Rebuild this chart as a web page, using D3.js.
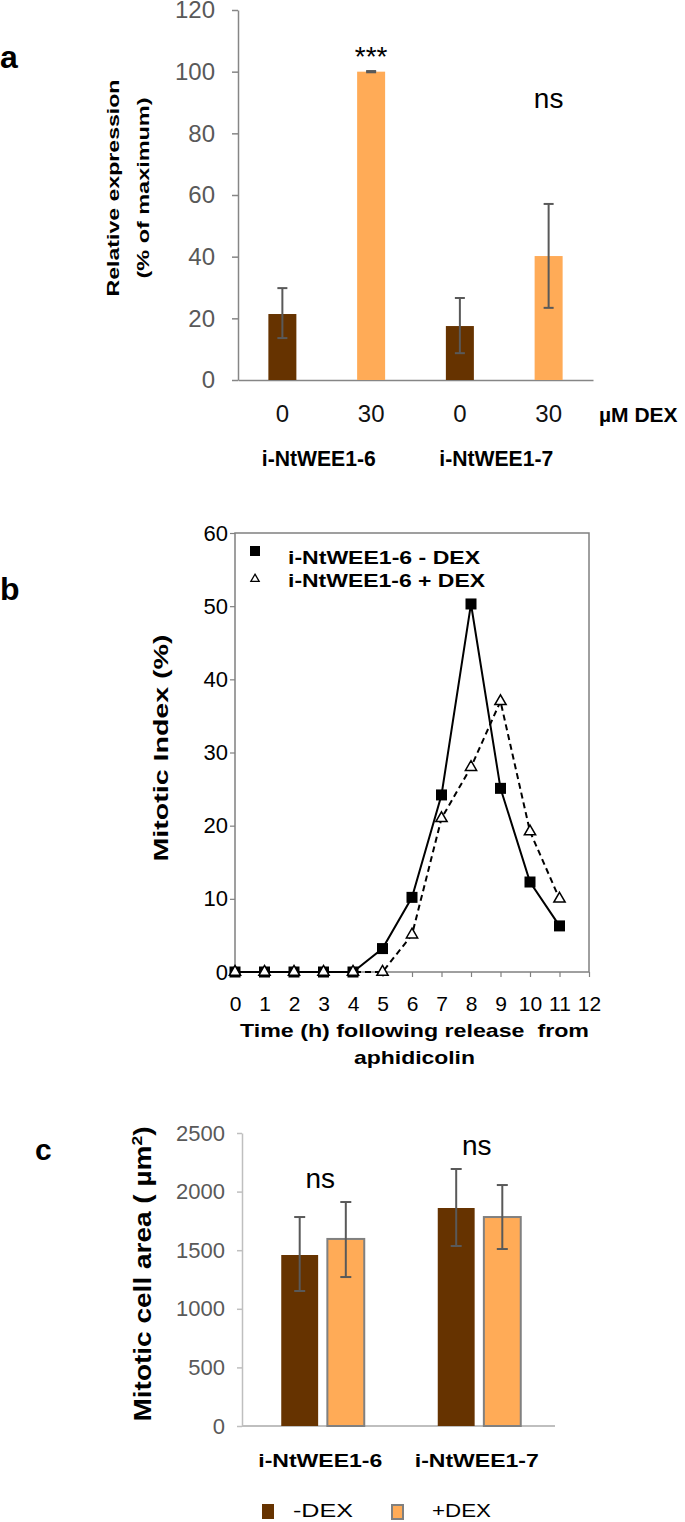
<!DOCTYPE html>
<html>
<head>
<meta charset="utf-8">
<script src="https://d3js.org/d3.v7.min.js"></script>
<style>
  body { margin: 0; background: #fff; }
  svg { display: block; font-family: "Liberation Sans", Arial, sans-serif; }
</style>
</head>
<body>
<script>
// ---- panel a : relative expression ----
var exprDose = ["0", "30", "0", "30"];
var exprLines = ["i-NtWEE1-6", "i-NtWEE1-7"];
var exprMean = [21.4, 100, 17.5, 40.2];
var exprLow = [13.6, 99.8, 8.7, 23.4];
var exprHigh = [29.8, 100.2, 26.6, 57.1];
var exprSig = ["", "***", "", "ns"];
var exprTicks = [0, 20, 40, 60, 80, 100, 120];

// ---- panel b : mitotic index ----
var hours = [0, 1, 2, 3, 4, 5, 6, 7, 8, 9, 10, 11];
var miMinus = [0, 0, 0, 0, 0, 3.2, 10.2, 24.2, 50.3, 25.1, 12.3, 6.3];
var miPlus = [0, 0, 0, 0, 0, 0, 5.1, 21.0, 28.0, 37.0, 19.2, 10.0];
var hourTicks = [0, 1, 2, 3, 4, 5, 6, 7, 8, 9, 10, 11, 12];
var miTicks = [0, 10, 20, 30, 40, 50, 60];

// ---- panel c : mitotic cell area ----
var areaLines = ["i-NtWEE1-6", "i-NtWEE1-7"];
var areaMinus = [1459, 1860];
var areaMinusLow = [1152, 1536];
var areaMinusHigh = [1783, 2193];
var areaPlus = [1596, 1783];
var areaPlusLow = [1271, 1510];
var areaPlusHigh = [1911, 2056];
var areaSig = ["ns", "ns"];
var areaTicks = [0, 500, 1000, 1500, 2000, 2500];

var brown = "#663300", orange = "#ffab57", errCol = "#595959";

var svg = d3.select("body").append("svg")
    .attr("width", 685)
    .attr("height", 1522);
svg.append("rect").attr("width", 685).attr("height", 1522).attr("fill", "#fff");

// panel letters
svg.append("text").attr("x", 0).attr("y", 68).style("font-size", "32px").style("font-weight", "bold").text("a");
svg.append("text").attr("x", 0).attr("y", 600).style("font-size", "32px").style("font-weight", "bold").text("b");
svg.append("text").attr("x", 35).attr("y", 1160).style("font-size", "30px").style("font-weight", "bold").text("c");

/* ================= panel a ================= */
var yA = d3.scaleLinear().domain([0, 120]).range([380, 10]);
var xA = d3.scaleBand().domain(d3.range(exprDose.length)).range([238, 593]);
var gA = svg.append("g");

var axA = gA.append("g").attr("transform", "translate(238,0)")
    .call(d3.axisLeft(yA).tickValues(exprTicks).tickSize(6).tickPadding(17).tickSizeOuter(0));
axA.selectAll("path,line").attr("stroke", "#868686").attr("stroke-width", 1.5);
axA.selectAll("text").attr("fill", "#595959").style("font-size", "24px").style("font-family", null);

var bxA = gA.append("g").attr("transform", "translate(0,380)")
    .call(d3.axisBottom(xA).tickSize(0).tickPadding(25).tickSizeOuter(0).tickFormat(function (i) { return exprDose[i]; }));
bxA.select("path").attr("stroke", "#868686").attr("stroke-width", 1.5);
bxA.selectAll("text").attr("fill", "#111").style("font-size", "24px").style("font-family", null);

var cxA = function (i) { return xA(i) + xA.bandwidth() / 2; };

gA.selectAll("rect.bar").data(exprMean).enter().append("rect")
    .attr("class", "bar")
    .attr("x", function (d, i) { return cxA(i) - 14; })
    .attr("width", 28)
    .attr("y", function (d) { return yA(d); })
    .attr("height", function (d) { return yA(0) - yA(d); })
    .attr("fill", function (d, i) { return exprDose[i] === "0" ? brown : orange; });

exprMean.forEach(function (d, i) {
  var x = cxA(i), g = gA.append("g").attr("stroke", errCol).attr("stroke-width", 2);
  g.append("line").attr("x1", x).attr("x2", x).attr("y1", yA(exprLow[i])).attr("y2", yA(exprHigh[i]));
  g.append("line").attr("x1", x - 5).attr("x2", x + 5).attr("y1", yA(exprLow[i])).attr("y2", yA(exprLow[i]));
  g.append("line").attr("x1", x - 5).attr("x2", x + 5).attr("y1", yA(exprHigh[i])).attr("y2", yA(exprHigh[i]));
});

var sigYA = [0, 66, 0, 108];
exprSig.forEach(function (s, i) {
  if (!s) return;
  gA.append("text").attr("x", cxA(i)).attr("y", sigYA[i]).attr("text-anchor", "middle")
    .style("font-size", "28px").text(s);
});

gA.append("text").attr("x", 599).attr("y", 422).style("font-size", "21px").style("font-weight", "bold").text("µM DEX");

// group labels, roughly under each pair of bars
exprLines.forEach(function (s, i) {
  var mid = (cxA(2 * i) + cxA(2 * i + 1)) / 2 - 8;
  gA.append("text").attr("x", mid).attr("y", 466).attr("text-anchor", "middle")
    .attr("textLength", 114).attr("lengthAdjust", "spacingAndGlyphs")
    .style("font-size", "22px").style("font-weight", "bold").text(s);
});

gA.append("text").attr("transform", "translate(119,188) rotate(-90)").attr("text-anchor", "middle")
  .attr("textLength", 217).attr("lengthAdjust", "spacingAndGlyphs")
  .style("font-size", "17px").style("font-weight", "bold").text("Relative expression");
gA.append("text").attr("transform", "translate(149,188) rotate(-90)").attr("text-anchor", "middle")
  .attr("textLength", 181).attr("lengthAdjust", "spacingAndGlyphs")
  .style("font-size", "17px").style("font-weight", "bold").text("(% of maximum)");

/* ================= panel b ================= */
var xB = d3.scaleLinear().domain([0, 12]).range([235, 589]);
var yB = d3.scaleLinear().domain([0, 60]).range([972, 533]);
var gB = svg.append("g");

gB.append("rect").attr("x", xB(0)).attr("y", yB(60))
  .attr("width", xB(12) - xB(0)).attr("height", yB(0) - yB(60))
  .attr("fill", "none").attr("stroke", "#808080").attr("stroke-width", 1.5);

var axB = gB.append("g").attr("transform", "translate(235,0)")
    .call(d3.axisLeft(yB).tickValues(miTicks).tickSize(5).tickPadding(2).tickSizeOuter(0));
axB.select("path").remove();
axB.selectAll("line").attr("stroke", "#808080").attr("stroke-width", 1.2);
axB.selectAll("text").attr("fill", "#000").style("font-size", "22px").style("font-family", null);

var bxB = gB.append("g").attr("transform", "translate(0,972)")
    .call(d3.axisBottom(xB).tickValues(hourTicks).tickSize(5).tickPadding(19).tickSizeOuter(0));
bxB.select("path").remove();
bxB.selectAll("line").attr("stroke", "#808080").attr("stroke-width", 1.2);
bxB.selectAll("text").attr("fill", "#000").style("font-size", "21px").style("font-family", null);

var ptsMinus = hours.map(function (h, i) { return { h: h, v: miMinus[i] }; });
var ptsPlus = hours.map(function (h, i) { return { h: h, v: miPlus[i] }; });
var line = d3.line().x(function (d) { return xB(d.h); }).y(function (d) { return yB(d.v); });

gB.append("path").datum(ptsPlus).attr("d", line).attr("fill", "none")
  .attr("stroke", "#000").attr("stroke-width", 2).attr("stroke-dasharray", "6,4");
gB.append("path").datum(ptsMinus).attr("d", line).attr("fill", "none")
  .attr("stroke", "#000").attr("stroke-width", 2);

gB.selectAll("rect.sq").data(ptsMinus).enter().append("rect").attr("class", "sq")
  .attr("x", function (d) { return xB(d.h) - 5.5; })
  .attr("y", function (d) { return yB(d.v) - 5.5; })
  .attr("width", 11).attr("height", 11).attr("fill", "#000");

var tri = d3.symbol().type(d3.symbolTriangle).size(55);
gB.selectAll("path.tri").data(ptsPlus).enter().append("path").attr("class", "tri")
  .attr("d", tri)
  .attr("transform", function (d) { return "translate(" + xB(d.h) + "," + yB(d.v) + ")"; })
  .attr("fill", "#fff").attr("stroke", "#000").attr("stroke-width", 1.5);

// legend
gB.append("rect").attr("x", 250).attr("y", 546).attr("width", 10).attr("height", 10).attr("fill", "#000");
gB.append("path").attr("d", d3.symbol().type(d3.symbolTriangle).size(30))
  .attr("transform", "translate(255,579)").attr("fill", "#fff").attr("stroke", "#000").attr("stroke-width", 1.3);
gB.append("text").attr("x", 288).attr("y", 564).attr("textLength", 192).attr("lengthAdjust", "spacingAndGlyphs")
  .style("font-size", "18px").style("font-weight", "bold").text("i-NtWEE1-6 - DEX");
gB.append("text").attr("x", 288).attr("y", 587).attr("textLength", 197).attr("lengthAdjust", "spacingAndGlyphs")
  .style("font-size", "18px").style("font-weight", "bold").text("i-NtWEE1-6 + DEX");

gB.append("text").attr("transform", "translate(168,748) rotate(-90)").attr("text-anchor", "middle")
  .attr("textLength", 227).attr("lengthAdjust", "spacingAndGlyphs")
  .style("font-size", "21px").style("font-weight", "bold").text("Mitotic Index (%)");
gB.append("text").attr("x", 414.5).attr("y", 1037).attr("text-anchor", "middle")
  .attr("textLength", 349).attr("lengthAdjust", "spacingAndGlyphs")
  .style("font-size", "19px").style("font-weight", "bold").style("white-space", "pre")
  .text("Time (h) following release  from");
gB.append("text").attr("x", 414.5).attr("y", 1064).attr("text-anchor", "middle")
  .attr("textLength", 121).attr("lengthAdjust", "spacingAndGlyphs")
  .style("font-size", "19px").style("font-weight", "bold").text("aphidicolin");

/* ================= panel c ================= */
var yC = d3.scaleLinear().domain([0, 2500]).range([1426, 1133]);
var xC = d3.scaleBand().domain(d3.range(areaLines.length)).range([242, 555]);
var subC = d3.scaleBand().domain(["minus", "plus"]).range([-39, 44]).paddingInner(0.2);
var gC = svg.append("g");

var axC = gC.append("g").attr("transform", "translate(242,0)")
    .call(d3.axisLeft(yC).tickValues(areaTicks).tickFormat(d3.format("d"))
      .tickSize(5).tickPadding(12).tickSizeOuter(0));
axC.selectAll("path,line").attr("stroke", "#bfbfbf").attr("stroke-width", 1.5);
axC.selectAll("text").attr("fill", "#595959").style("font-size", "22px").style("font-family", null);

gC.append("line").attr("x1", 242).attr("x2", 555).attr("y1", yC(0)).attr("y2", yC(0))
  .attr("stroke", "#bfbfbf").attr("stroke-width", 2);

var cxC = function (i) { return xC(i) + xC.bandwidth() / 2; };

var barsC = [];
areaLines.forEach(function (n, i) {
  barsC.push({ g: i, k: "minus", v: areaMinus[i], lo: areaMinusLow[i], hi: areaMinusHigh[i] });
  barsC.push({ g: i, k: "plus", v: areaPlus[i], lo: areaPlusLow[i], hi: areaPlusHigh[i] });
});

gC.selectAll("rect.bar").data(barsC).enter().append("rect").attr("class", "bar")
  .attr("x", function (d) { return cxC(d.g) + subC(d.k); })
  .attr("width", subC.bandwidth())
  .attr("y", function (d) { return yC(d.v); })
  .attr("height", function (d) { return yC(0) - yC(d.v); })
  .attr("fill", function (d) { return d.k === "minus" ? brown : orange; })
  .attr("stroke", function (d) { return d.k === "minus" ? "none" : "#808080"; })
  .attr("stroke-width", 2);

barsC.forEach(function (d) {
  var x = cxC(d.g) + subC(d.k) + subC.bandwidth() / 2;
  var g = gC.append("g").attr("stroke", errCol).attr("stroke-width", 2);
  g.append("line").attr("x1", x).attr("x2", x).attr("y1", yC(d.lo)).attr("y2", yC(d.hi));
  g.append("line").attr("x1", x - 5.5).attr("x2", x + 5.5).attr("y1", yC(d.lo)).attr("y2", yC(d.lo));
  g.append("line").attr("x1", x - 5.5).attr("x2", x + 5.5).attr("y1", yC(d.hi)).attr("y2", yC(d.hi));
});

areaSig.forEach(function (s, i) {
  var top = Math.max(areaMinusHigh[i], areaPlusHigh[i]);
  gC.append("text").attr("x", cxC(i)).attr("y", yC(top) - 14).attr("text-anchor", "middle")
    .style("font-size", "28px").text(s);
});

areaLines.forEach(function (s, i) {
  gC.append("text").attr("x", cxC(i)).attr("y", 1467).attr("text-anchor", "middle")
    .attr("textLength", 124).attr("lengthAdjust", "spacingAndGlyphs")
    .style("font-size", "18px").style("font-weight", "bold").text(s);
});

gC.append("text").attr("transform", "translate(151,1274) rotate(-90)").attr("text-anchor", "middle")
  .attr("textLength", 295).attr("lengthAdjust", "spacingAndGlyphs")
  .style("font-size", "24px").style("font-weight", "bold")
  .text("Mitotic cell area ( µm")
  .append("tspan").attr("dy", -9).style("font-size", "15px").text("2")
  .select(function () { return this.parentNode; })
  .append("tspan").attr("dy", 9).text(")");

// legend c
gC.append("rect").attr("x", 262).attr("y", 1504).attr("width", 12).attr("height", 15).attr("fill", brown);
gC.append("text").attr("x", 293).attr("y", 1517).attr("textLength", 60).attr("lengthAdjust", "spacingAndGlyphs")
  .style("font-size", "19px").text("-DEX");
gC.append("rect").attr("x", 392).attr("y", 1505).attr("width", 11).attr("height", 14)
  .attr("fill", orange).attr("stroke", "#808080").attr("stroke-width", 2);
gC.append("text").attr("x", 432).attr("y", 1517).attr("textLength", 59).attr("lengthAdjust", "spacingAndGlyphs")
  .style("font-size", "19px").text("+DEX");
</script>
</body>
</html>
